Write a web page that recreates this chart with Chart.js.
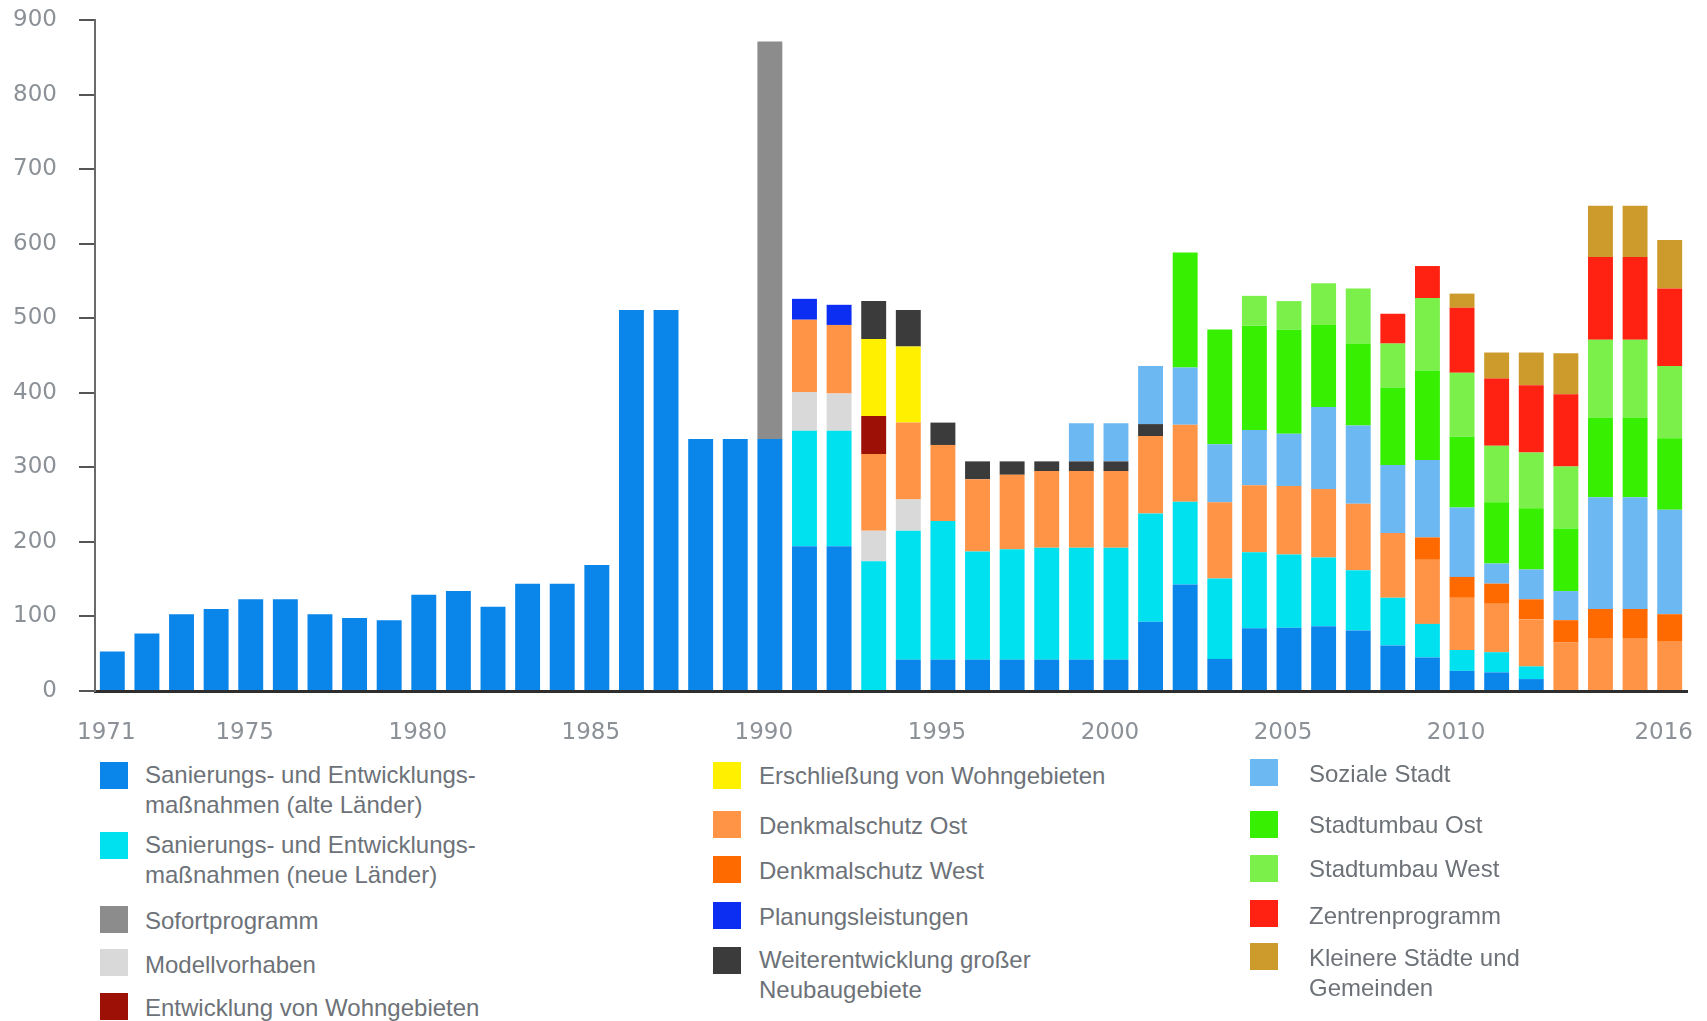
<!DOCTYPE html>
<html>
<head>
<meta charset="utf-8">
<script src="https://cdn.jsdelivr.net/npm/chart.js@4.4.1/dist/chart.umd.min.js"></script>
<style>
html,body{margin:0;padding:0;background:#fff;width:1707px;height:1021px;overflow:hidden;}
#wrap{position:relative;width:1707px;height:1021px;}
#c{position:absolute;left:0;top:0;}
.sw{position:absolute;width:28px;height:27px;}
.tx{position:absolute;font-family:"Liberation Sans",Arial,sans-serif;font-size:24px;line-height:30px;color:#6d7278;white-space:nowrap;}
</style>
</head>
<body>
<div id="wrap">
<canvas id="c" width="1707" height="760"></canvas>
<div id="legend"></div>
</div>
<script>
// ---- categories ----
const years = ["1971","1972","1973","1974","1975","1976","1977","1978","1979","1980",
"1981","1982","1983","1984","1985","1986","1987","1988","1989","1990",
"1991","1992","1993","1994","1995","1996","1997","1998","1999","2000",
"2001","2002","2003","2004","2005","2006","2007","2008","2009","2010",
"2011","2012","2013","2014","2015","2016"];
const shownYearLabels = ["1971","1975","1980","1985","1990","1995","2000","2005","2010","2016"];
const yTicks = [0,100,200,300,400,500,600,700,800,900];

// ---- series values (1971 ... 2016) ----
const sanAlt = [53,77,103,110,123,123,103,98,95,129, 134,113,144,144,169,511,511,338,338,338, 194,194,0,42,42,42,42,42,42,42, 93,143,43,84,85,87,81,61,45,27, 25,16,0,0,0,0];
const sanNeu = [0,0,0,0,0,0,0,0,0,0, 0,0,0,0,0,0,0,0,0,0, 155,155,174,173,186,145,148,150,150,150, 145,111,108,102,98,92,81,64,45,28, 27,17,0,0,0,0];
const sofort = [0,0,0,0,0,0,0,0,0,0, 0,0,0,0,0,0,0,0,0,533, 0,0,0,0,0,0,0,0,0,0, 0,0,0,0,0,0,0,0,0,0, 0,0,0,0,0,0];
const modell = [0,0,0,0,0,0,0,0,0,0, 0,0,0,0,0,0,0,0,0,0, 52,50,41,42,0,0,0,0,0,0, 0,0,0,0,0,0,0,0,0,0, 0,0,0,0,0,0];
const denkOst = [0,0,0,0,0,0,0,0,0,0, 0,0,0,0,0,0,0,0,0,0, 97,92,103,103,102,97,100,103,103,103, 104,103,102,90,92,92,89,87,86,70, 65,63,65,71,71,67];
const denkWest = [0,0,0,0,0,0,0,0,0,0, 0,0,0,0,0,0,0,0,0,0, 0,0,0,0,0,0,0,0,0,0, 0,0,0,0,0,0,0,0,30,28, 27,27,30,39,39,36];
const planung = [0,0,0,0,0,0,0,0,0,0, 0,0,0,0,0,0,0,0,0,0, 28,27,0,0,0,0,0,0,0,0, 0,0,0,0,0,0,0,0,0,0, 0,0,0,0,0,0];
const entwWohn = [0,0,0,0,0,0,0,0,0,0, 0,0,0,0,0,0,0,0,0,0, 0,0,51,0,0,0,0,0,0,0, 0,0,0,0,0,0,0,0,0,0, 0,0,0,0,0,0];
const erschl = [0,0,0,0,0,0,0,0,0,0, 0,0,0,0,0,0,0,0,0,0, 0,0,103,102,0,0,0,0,0,0, 0,0,0,0,0,0,0,0,0,0, 0,0,0,0,0,0];
const weiterEnt = [0,0,0,0,0,0,0,0,0,0, 0,0,0,0,0,0,0,0,0,0, 0,0,51,49,30,24,18,13,13,13, 16,0,0,0,0,0,0,0,0,0, 0,0,0,0,0,0];
const sozial = [0,0,0,0,0,0,0,0,0,0, 0,0,0,0,0,0,0,0,0,0, 0,0,0,0,0,0,0,0,51,51, 78,77,78,74,70,110,105,91,104,93, 27,40,39,150,150,140];
const umbauOst = [0,0,0,0,0,0,0,0,0,0, 0,0,0,0,0,0,0,0,0,0, 0,0,0,0,0,0,0,0,0,0, 0,154,154,140,140,110,110,104,120,95, 82,82,84,107,107,96];
const umbauWest = [0,0,0,0,0,0,0,0,0,0, 0,0,0,0,0,0,0,0,0,0, 0,0,0,0,0,0,0,0,0,0, 0,0,0,40,38,56,74,59,97,86, 76,75,83,104,104,97];
const zentren = [0,0,0,0,0,0,0,0,0,0, 0,0,0,0,0,0,0,0,0,0, 0,0,0,0,0,0,0,0,0,0, 0,0,0,0,0,0,0,40,43,87, 90,90,97,111,111,104];
const kleinStaedte = [0,0,0,0,0,0,0,0,0,0, 0,0,0,0,0,0,0,0,0,0, 0,0,0,0,0,0,0,0,0,0, 0,0,0,0,0,0,0,0,0,19, 35,44,55,69,69,65];

// ---- series definitions (stack order bottom -> top) ----
const series = [
  {key:"sanAlt", label:"Sanierungs- und Entwicklungs-\nmaßnahmen (alte Länder)", data:sanAlt, color:"#0a86ea"},
  {key:"sanNeu", label:"Sanierungs- und Entwicklungs-\nmaßnahmen (neue Länder)", data:sanNeu, color:"#00e1ef"},
  {key:"sofort", label:"Sofortprogramm", data:sofort, color:"#8c8c8c"},
  {key:"modell", label:"Modellvorhaben", data:modell, color:"#d9d9d9"},
  {key:"denkOst", label:"Denkmalschutz Ost", data:denkOst, color:"#ff9447"},
  {key:"denkWest", label:"Denkmalschutz West", data:denkWest, color:"#ff6a00"},
  {key:"planung", label:"Planungsleistungen", data:planung, color:"#0b2ef2"},
  {key:"entwWohn", label:"Entwicklung von Wohngebieten", data:entwWohn, color:"#9c1006"},
  {key:"erschl", label:"Erschließung von Wohngebieten", data:erschl, color:"#fff000"},
  {key:"weiterEnt", label:"Weiterentwicklung großer\nNeubaugebiete", data:weiterEnt, color:"#3b3b3b"},
  {key:"sozial", label:"Soziale Stadt", data:sozial, color:"#6cb8f2"},
  {key:"umbauOst", label:"Stadtumbau Ost", data:umbauOst, color:"#37ef00"},
  {key:"umbauWest", label:"Stadtumbau West", data:umbauWest, color:"#7bf04b"},
  {key:"zentren", label:"Zentrenprogramm", data:zentren, color:"#ff2212"},
  {key:"kleinStaedte", label:"Kleinere Städte und\nGemeinden", data:kleinStaedte, color:"#cc9b2b"}
];

// ---- legend layout (column, swatch top, text top) ----
const legendColumns = [{sw:100, tx:145},{sw:713, tx:759},{sw:1250, tx:1309}];
const legendLayout = [
  ["sanAlt",0,762,760],["sanNeu",0,832,830],["sofort",0,906,906],["modell",0,949,950],["entwWohn",0,993,993],
  ["erschl",1,762,761],["denkOst",1,811,811],["denkWest",1,856,856],["planung",1,902,902],["weiterEnt",1,947,945],
  ["sozial",2,759,759],["umbauOst",2,811,810],["umbauWest",2,855,854],["zentren",2,900,901],["kleinStaedte",2,943,943]
];

const tickColor = "#8b9197";
const chart = new Chart(document.getElementById("c"), {
  type: "bar",
  data: {
    labels: years,
    datasets: series.map(s => ({
      label: s.label.replace("\n"," "),
      data: s.data,
      backgroundColor: s.color,
      borderWidth: 0,
      categoryPercentage: 1.0,
      barPercentage: 0.72
    }))
  },
  options: {
    responsive: false,
    animation: false,
    devicePixelRatio: 1,
    layout: {padding: {top: 20, right: 20, left: 0, bottom: 0}},
    plugins: {legend: {display: false}, tooltip: {enabled: false}},
    scales: {
      x: {
        stacked: true,
        grid: {display: false},
        border: {display: true, color: "#2e2e2e", width: 3},
        ticks: {
          autoSkip: false, maxRotation: 0, minRotation: 0, padding: 20, labelOffset: -6,
          color: tickColor, font: {family: "DejaVu Sans", size: 23},
          callback: function(v, i) { const l = years[i]; return shownYearLabels.includes(l) ? l : ""; }
        },
        afterFit: s => { s.height = 69; s.paddingLeft = 0; s.paddingRight = 0; }
      },
      y: {
        stacked: true, min: 0, max: 900,
        afterBuildTicks: s => { s.ticks = yTicks.map(v => ({value: v})); },
        grid: {display: true, drawOnChartArea: false, drawTicks: true, tickLength: 16, color: "#555", lineWidth: 2},
        border: {display: true, color: "#6a6a6a", width: 2},
        ticks: {padding: 22, color: tickColor, font: {family: "DejaVu Sans", size: 23}},
        afterFit: s => { s.width = 95; s.paddingTop = 0; s.paddingBottom = 0; }
      }
    }
  }
});

// ---- HTML legend ----
const lg = document.getElementById("legend");
legendLayout.forEach(([key, col, swTop, txTop]) => {
  const s = series.find(x => x.key === key);
  const sw = document.createElement("div");
  sw.className = "sw";
  sw.style.left = legendColumns[col].sw + "px";
  sw.style.top = swTop + "px";
  sw.style.background = s.color;
  lg.appendChild(sw);
  const tx = document.createElement("div");
  tx.className = "tx";
  tx.style.left = legendColumns[col].tx + "px";
  tx.style.top = txTop + "px";
  tx.innerHTML = s.label.split("\n").join("<br>");
  lg.appendChild(tx);
});
</script>
</body>
</html>
